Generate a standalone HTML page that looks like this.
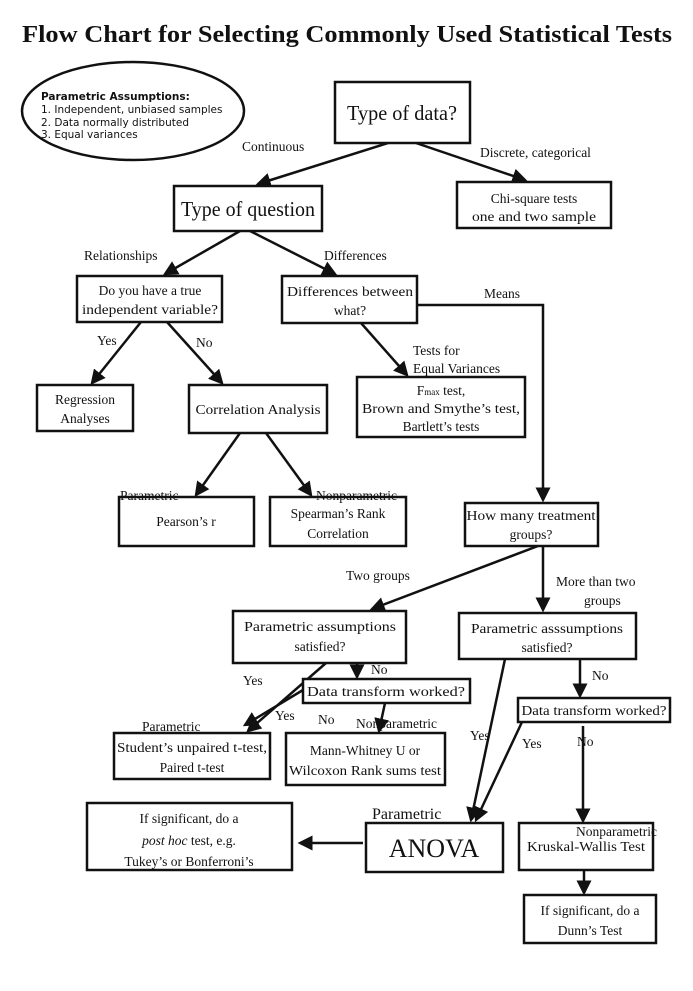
<!DOCTYPE html>
<html><head><meta charset="utf-8"><style>
html,body{margin:0;padding:0;background:#fff;}
svg{display:block;}
text{font-family:"Liberation Serif",serif;fill:#111;}
.s{font-family:"DejaVu Sans","Liberation Sans",sans-serif;font-size:10.5px;}
.l{font-size:13.5px;}
rect{fill:#fff;stroke:#111;stroke-width:2.5;}
line,polyline{stroke:#111;stroke-width:2.5;fill:none;}
</style></head><body>
<svg width="693" height="991" viewBox="0 0 693 991" xmlns="http://www.w3.org/2000/svg">
<defs>
<marker id="a" markerWidth="6" markerHeight="6" refX="5" refY="3" orient="auto" markerUnits="strokeWidth">
<path d="M0,0 L6,3 L0,6 z" fill="#111"/></marker>
</defs>
<text x="347" y="42" text-anchor="middle" font-size="24" font-weight="bold" textLength="650" lengthAdjust="spacingAndGlyphs">Flow Chart for Selecting Commonly Used Statistical Tests</text>

<ellipse cx="133" cy="111" rx="111" ry="49" fill="#fff" stroke="#111" stroke-width="2.5"/>
<text class="s" x="41" y="100" font-weight="bold">Parametric Assumptions:</text>
<text class="s" x="41" y="113">1. Independent, unbiased samples</text>
<text class="s" x="41" y="126">2. Data normally distributed</text>
<text class="s" x="41" y="138">3. Equal variances</text>

<!-- connectors -->
<line x1="388" y1="143" x2="258" y2="184" marker-end="url(#a)"/>
<line x1="416" y1="143" x2="525" y2="180" marker-end="url(#a)"/>
<line x1="240" y1="231" x2="165" y2="274" marker-end="url(#a)"/>
<line x1="250" y1="231" x2="335" y2="274" marker-end="url(#a)"/>
<polyline points="417,305 543,305 543,500" marker-end="url(#a)"/>
<line x1="141" y1="322" x2="92" y2="383" marker-end="url(#a)"/>
<line x1="167" y1="322" x2="222" y2="383" marker-end="url(#a)"/>
<line x1="361" y1="323" x2="407" y2="375" marker-end="url(#a)"/>
<line x1="240" y1="433" x2="196" y2="495" marker-end="url(#a)"/>
<line x1="266" y1="433" x2="311" y2="495" marker-end="url(#a)"/>
<line x1="538" y1="546" x2="372" y2="609" marker-end="url(#a)"/>
<line x1="543" y1="546" x2="543" y2="610" marker-end="url(#a)"/>
<line x1="357" y1="663" x2="357" y2="677" marker-end="url(#a)"/>
<line x1="326" y1="663" x2="248" y2="731" marker-end="url(#a)"/>
<line x1="303" y1="690" x2="245" y2="725" marker-end="url(#a)"/>
<line x1="385" y1="703" x2="379" y2="731" marker-end="url(#a)"/>
<line x1="580" y1="659" x2="580" y2="696" marker-end="url(#a)"/>
<line x1="583" y1="726" x2="583" y2="821" marker-end="url(#a)"/>
<line x1="584" y1="870" x2="584" y2="893" marker-end="url(#a)"/>
<line x1="505" y1="659" x2="471" y2="820" marker-end="url(#a)"/>
<line x1="522" y1="722" x2="476" y2="820" marker-end="url(#a)"/>
<line x1="363" y1="843" x2="300" y2="843" marker-end="url(#a)"/>

<!-- boxes -->
<rect x="335" y="82" width="135" height="61"/>
<text x="402" y="120" text-anchor="middle" font-size="21" textLength="110" lengthAdjust="spacingAndGlyphs">Type of data?</text>
<rect x="457" y="182" width="154" height="46"/>
<text class="l" x="534" y="203" text-anchor="middle">Chi-square  tests</text>
<text class="l" x="534" y="221" text-anchor="middle" textLength="124" lengthAdjust="spacingAndGlyphs">one and two sample</text>
<rect x="174" y="186" width="148" height="45"/>
<text x="248" y="216" text-anchor="middle" font-size="21" textLength="134" lengthAdjust="spacingAndGlyphs">Type of question</text>

<rect x="77" y="276" width="145" height="46"/>
<text class="l" x="150" y="295" text-anchor="middle">Do you have a true</text>
<text class="l" x="150" y="314" text-anchor="middle" textLength="136" lengthAdjust="spacingAndGlyphs">independent variable?</text>
<rect x="282" y="276" width="135" height="47"/>
<text class="l" x="350" y="296" text-anchor="middle" textLength="126" lengthAdjust="spacingAndGlyphs">Differences between</text>
<text class="l" x="350" y="315" text-anchor="middle">what?</text>

<rect x="37" y="385" width="96" height="46"/>
<text class="l" x="85" y="404" text-anchor="middle">Regression</text>
<text class="l" x="85" y="423" text-anchor="middle">Analyses</text>
<rect x="189" y="385" width="138" height="48"/>
<text class="l" x="258" y="414" text-anchor="middle" textLength="125" lengthAdjust="spacingAndGlyphs">Correlation Analysis</text>
<rect x="357" y="377" width="168" height="60"/>
<text class="l" x="441" y="395" text-anchor="middle">F<tspan font-size="9">max</tspan> test,</text>
<text class="l" x="441" y="413" text-anchor="middle" textLength="158" lengthAdjust="spacingAndGlyphs">Brown and Smythe’s test,</text>
<text class="l" x="441" y="431" text-anchor="middle">Bartlett’s tests</text>

<rect x="119" y="497" width="135" height="49"/>
<text class="l" x="186" y="526" text-anchor="middle">Pearson’s r</text>
<rect x="270" y="497" width="136" height="49"/>
<text class="l" x="338" y="518" text-anchor="middle">Spearman’s Rank</text>
<text class="l" x="338" y="538" text-anchor="middle">Correlation</text>
<rect x="465" y="503" width="133" height="43"/>
<text class="l" x="531" y="520" text-anchor="middle" textLength="129" lengthAdjust="spacingAndGlyphs">How many treatment</text>
<text class="l" x="531" y="539" text-anchor="middle">groups?</text>

<rect x="233" y="611" width="173" height="52"/>
<text class="l" x="320" y="631" text-anchor="middle" textLength="152" lengthAdjust="spacingAndGlyphs">Parametric  assumptions</text>
<text class="l" x="320" y="651" text-anchor="middle">satisfied?</text>
<rect x="459" y="613" width="177" height="46"/>
<text class="l" x="547" y="633" text-anchor="middle" textLength="152" lengthAdjust="spacingAndGlyphs">Parametric asssumptions</text>
<text class="l" x="547" y="652" text-anchor="middle">satisfied?</text>

<rect x="303" y="679" width="167" height="24"/>
<text class="l" x="386" y="696" text-anchor="middle" textLength="158" lengthAdjust="spacingAndGlyphs">Data transform worked?</text>
<rect x="518" y="698" width="152" height="24"/>
<text class="l" x="594" y="715" text-anchor="middle" textLength="145" lengthAdjust="spacingAndGlyphs">Data transform worked?</text>

<rect x="114" y="733" width="156" height="46"/>
<text class="l" x="192" y="752" text-anchor="middle" textLength="150" lengthAdjust="spacingAndGlyphs">Student’s unpaired t-test,</text>
<text class="l" x="192" y="772" text-anchor="middle">Paired t-test</text>
<rect x="286" y="733" width="159" height="52"/>
<text class="l" x="365" y="755" text-anchor="middle">Mann-Whitney U or</text>
<text class="l" x="365" y="775" text-anchor="middle" textLength="152" lengthAdjust="spacingAndGlyphs">Wilcoxon Rank sums test</text>

<rect x="87" y="803" width="205" height="67"/>
<text class="l" x="189" y="823" text-anchor="middle">If significant, do a</text>
<text class="l" x="189" y="845" text-anchor="middle"><tspan font-style="italic">post hoc</tspan> test, e.g.</text>
<text class="l" x="189" y="866" text-anchor="middle">Tukey’s or  Bonferroni’s</text>
<rect x="366" y="823" width="137" height="49"/>
<text x="434" y="857" text-anchor="middle" font-size="26">ANOVA</text>
<rect x="519" y="823" width="134" height="47"/>
<text class="l" x="586" y="851" text-anchor="middle" textLength="118" lengthAdjust="spacingAndGlyphs">Kruskal-Wallis Test</text>
<rect x="524" y="895" width="132" height="48"/>
<text class="l" x="590" y="915" text-anchor="middle">If significant, do a</text>
<text class="l" x="590" y="935" text-anchor="middle">Dunn’s Test</text>

<!-- labels -->
<text class="l" x="242" y="151">Continuous</text>
<text class="l" x="480" y="157">Discrete, categorical</text>
<text class="l" x="84" y="260">Relationships</text>
<text class="l" x="324" y="260">Differences</text>
<text class="l" x="484" y="298">Means</text>
<text class="l" x="97" y="345">Yes</text>
<text class="l" x="196" y="347">No</text>
<text class="l" x="413" y="355">Tests for</text>
<text class="l" x="413" y="373">Equal Variances</text>
<text class="l" x="120" y="500">Parametric</text>
<text class="l" x="316" y="500">Nonparametric</text>
<text class="l" x="346" y="580">Two groups</text>
<text class="l" x="556" y="586">More than two</text>
<text class="l" x="584" y="605">groups</text>
<text class="l" x="371" y="674">No</text>
<text class="l" x="243" y="685">Yes</text>
<text class="l" x="275" y="720">Yes</text>
<text class="l" x="318" y="724">No</text>
<text class="l" x="356" y="728">Nonparametric</text>
<text class="l" x="142" y="731">Parametric</text>
<text class="l" x="592" y="680">No</text>
<text class="l" x="470" y="740">Yes</text>
<text class="l" x="522" y="748">Yes</text>
<text class="l" x="577" y="746">No</text>
<text x="372" y="819" font-size="16">Parametric</text>
<text class="l" x="576" y="836">Nonparametric</text>
</svg>
</body></html>
